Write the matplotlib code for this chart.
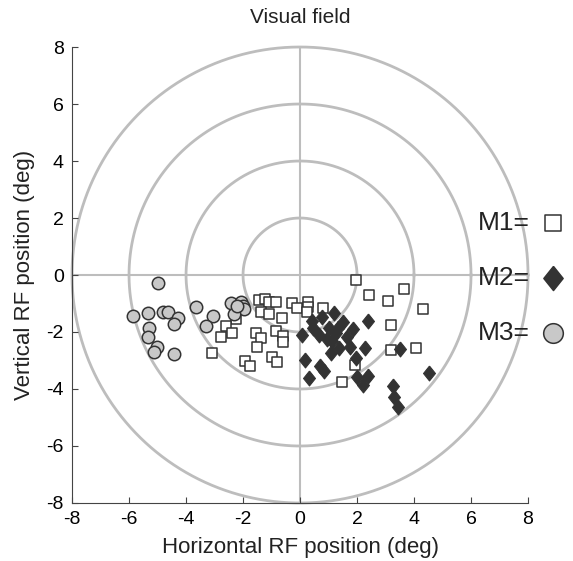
import numpy as np
import matplotlib
matplotlib.use("Agg")
import matplotlib.pyplot as plt

plt.rcParams['font.family'] = ['Liberation Sans', 'DejaVu Sans']
plt.rcParams['axes.unicode_minus'] = False

# M1 receptive field centres (open squares)
m1_x = [-1.44, -1.23, -1.08, -0.85, -0.29, -0.12, -1.38, -1.09, -0.62, -2.25,
        -2.60, -2.40, -2.77, -1.56, -1.37, -1.52, -0.85, -0.61, -0.58, -3.10,
        -1.93, -1.75, -0.97, -0.82, 0.29, 0.29, 0.82, 0.23, 1.95, 2.42,
        3.10, 3.66, 4.30, 3.19, 3.19, 4.07, 1.93, 1.48]
m1_y = [-0.88, -0.84, -0.96, -0.96, -0.99, -1.17, -1.31, -1.37, -1.52, -1.56,
        -1.79, -2.02, -2.16, -2.02, -2.22, -2.51, -1.96, -2.14, -2.34, -2.72,
        -3.02, -3.19, -2.87, -3.04, -0.94, -1.11, -1.17, -1.29, -0.18, -0.70,
        -0.90, -0.50, -1.20, -1.75, -2.63, -2.57, -3.16, -3.74]

# M2 receptive field centres (filled diamonds)
m2_x = [1.20, 0.78, 0.43, 0.47, 0.08, 0.67, 1.02, 1.35, 1.50, 1.85,
        1.64, 1.11, 1.38, 1.75, 1.08, 2.28, 1.95, 2.40, 0.18, 0.70,
        0.85, 0.33, 2.01, 2.40, 2.22, 3.51, 4.54, 3.27, 3.31, 3.43,
        1.25, 0.95]
m2_y = [-1.35, -1.49, -1.61, -1.87, -2.11, -2.11, -1.87, -1.87, -1.64, -1.91,
        -2.19, -2.32, -2.57, -2.51, -2.75, -2.57, -2.92, -1.61, -2.98, -3.19,
        -3.36, -3.63, -3.57, -3.54, -3.86, -2.61, -3.45, -3.88, -4.29, -4.62,
        -2.05, -2.25]

# M3 receptive field centres (grey circles)
m3_x = [-4.99, -5.87, -5.32, -4.80, -4.64, -4.29, -4.41, -5.30, -5.32, -5.03,
        -5.11, -4.41, -3.65, -3.06, -3.30, -2.43, -2.08, -2.01, -1.95, -2.30,
        -2.20]
m3_y = [-0.29, -1.43, -1.34, -1.29, -1.31, -1.50, -1.73, -1.87, -2.19, -2.54,
        -2.71, -2.78, -1.13, -1.43, -1.78, -0.99, -0.94, -1.08, -1.20, -1.37,
        -1.10]

radii = [2, 4, 6, 8]
ticks = [-8, -6, -4, -2, 0, 2, 4, 6, 8]

# slightly tall diamond like the original
diamond = [(0, 1), (0.8, 0), (0, -1), (-0.8, 0), (0, 1)]

fig = plt.figure(figsize=(5.73, 5.61), dpi=100)
ax = fig.add_axes([0.1257, 0.1034, 0.7958, 0.8128])

ring = '#bdbdbd'
t = np.linspace(0, 2 * np.pi, 400)
for r in radii:
    ax.plot(r * np.cos(t), r * np.sin(t), color=ring, lw=2, zorder=1, clip_on=False)
ax.plot([0, 0], [-8, 8], color=ring, lw=1.5, zorder=1)
ax.plot([-8, 8], [0, 0], color=ring, lw=1.5, zorder=1)

ax.scatter(m1_x, m1_y, marker='s', s=48, facecolor='white', edgecolor='#333333',
           linewidth=1.1, zorder=3)
ax.scatter(m2_x, m2_y, marker=diamond, s=115, facecolor='#333333', edgecolor='#333333',
           linewidth=0.8, zorder=4)
ax.scatter(m3_x, m3_y, marker='o', s=80, facecolor='#c8c8c8', edgecolor='#333333',
           linewidth=1.1, zorder=3)

ax.set_xlim(-8, 8)
ax.set_ylim(-8, 8)
ax.set_xticks(ticks)
ax.set_yticks(ticks)
ax.tick_params(direction='in', length=4, labelsize=14, color='#444444', pad=6)
for s in ['top', 'right']:
    ax.spines[s].set_visible(False)
for s in ['left', 'bottom']:
    ax.spines[s].set_color('#444444')
ax.set_xlabel('Horizontal RF position (deg)', fontsize=16, color='#222222', labelpad=6)
ax.set_ylabel('Vertical RF position (deg)', fontsize=16, color='#222222', labelpad=8)
ax.set_title('Visual field', fontsize=15, color='#222222', pad=17)

# legend drawn beside the rings
leg = [('M1=', 1.82, 's', 'white', 120), ('M2=', -0.1, diamond, '#333333', 300),
       ('M3=', -2.03, 'o', '#c8c8c8', 200)]
for lab, yy, mk, fc, sz in leg:
    ax.text(6.25, yy, lab, fontsize=19, va='center', ha='left', color='#222222',
            zorder=5)
    ax.scatter([8.88], [yy], marker=mk, s=sz, facecolor=fc, edgecolor='#333333',
               linewidth=1.1, clip_on=False, zorder=5)

fig.savefig('out.png', dpi=100)
